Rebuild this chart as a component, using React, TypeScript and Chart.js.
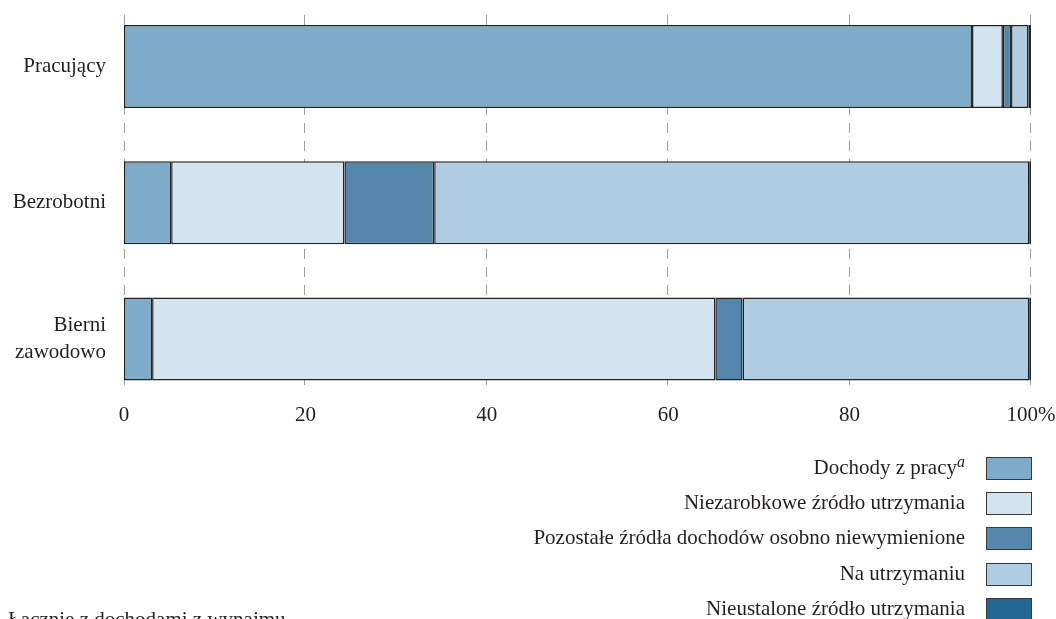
import React, { useEffect, useRef } from 'react';
import { Chart, registerables } from 'chart.js';

Chart.register(...registerables);

const categories: string[][] = [['Pracujący'], ['Bezrobotni'], ['Bierni', 'zawodowo']];
const seriesNames = [
  'Dochody z pracy',
  'Niezarobkowe źródło utrzymania',
  'Pozostałe źródła dochodów osobno niewymienione',
  'Na utrzymaniu',
  'Nieustalone źródło utrzymania',
];
const dochodyZPracy = [93.5, 5.2, 3.1];
const niezarobkowe = [3.4, 19.1, 62.1];
const pozostale = [0.9, 9.9, 3.0];
const naUtrzymaniu = [1.9, 65.6, 31.6];
const nieustalone = [0.3, 0.2, 0.2];
const seriesColors = ['#7fabca', '#d4e3f0', '#5487ab', '#afcce2', '#246891'];
const xTicks = [0, 20, 40, 60, 80, 100];
const footnote = 'Łącznie z dochodami z wynajmu';

const FONT = "'Liberation Serif', 'Times New Roman', serif";
const TEXT = '#231f20';

const dashedGrid = {
  id: 'dashedGrid',
  beforeDatasetsDraw(chart: any) {
    const ctx = chart.ctx;
    const xs = chart.scales.x;
    const area = chart.chartArea;
    const first = chart.getDatasetMeta(0).data[0] as any;
    const last = chart.getDatasetMeta(0).data[categories.length - 1] as any;
    const y0 = first.y - first.height / 2 - 10;
    const y1 = last.y + last.height / 2 + 11;
    ctx.save();
    ctx.strokeStyle = '#a0a0a0';
    ctx.lineWidth = 1;
    ctx.setLineDash([10, 8]);
    xTicks.forEach((t) => {
      const px = Math.round(xs.getPixelForValue(t));
      const x = px <= area.left + 1 ? px + 0.5 : px - 0.5;
      ctx.beginPath();
      ctx.moveTo(x, y0);
      ctx.lineTo(x, y1);
      ctx.stroke();
    });
    ctx.restore();
  },
};

export default function App() {
  const ref = useRef<HTMLCanvasElement | null>(null);
  useEffect(() => {
    if (!ref.current) return;
    const values = [dochodyZPracy, niezarobkowe, pozostale, naUtrzymaniu, nieustalone];
    const chart = new Chart(ref.current, {
      type: 'bar',
      data: {
        labels: categories as any,
        datasets: values.map((v, i) => ({
          label: seriesNames[i],
          data: v,
          backgroundColor: seriesColors[i],
          borderColor: '#222222',
          borderWidth: 1.5,
          borderSkipped: false,
          barPercentage: 0.61,
          categoryPercentage: 1,
          clip: false as any,
        })),
      },
      options: {
        indexAxis: 'y',
        animation: false,
        responsive: false,
        plugins: { legend: { display: false }, tooltip: { enabled: false } },
        layout: { padding: { top: 66.5, left: 0, bottom: 0, right: 25 } },
        scales: {
          x: {
            stacked: true,
            min: 0,
            max: 100,
            afterBuildTicks: (s: any) => {
              s.ticks = xTicks.map((v) => ({ value: v }));
            },
            afterFit: (s: any) => {
              s.height = 619 - 339;
              s.paddingLeft = 0;
              s.paddingRight = 0;
            },
            grid: { display: false, drawTicks: false },
            border: { display: false },
            ticks: {
              padding: 64,
              color: TEXT,
              font: { family: FONT, size: 21 },
              maxRotation: 0,
              callback: (v: any) => (v === 100 ? '100%' : String(v)),
            },
          },
          y: {
            stacked: true,
            offset: false,
            afterFit: (s: any) => {
              s.width = 124;
              s.paddingTop = 0;
              s.paddingBottom = 0;
            },
            grid: { display: false, drawTicks: false, offset: false },
            border: { display: false },
            ticks: {
              padding: 18,
              color: TEXT,
              font: { family: FONT, size: 21, lineHeight: 1.25 },
            },
          },
        },
      },
      plugins: [dashedGrid],
    });
    return () => chart.destroy();
  }, []);

  return (
    <div
      style={{
        position: 'fixed',
        left: 0,
        top: 0,
        width: 1056,
        height: 619,
        background: '#fff',
        overflow: 'hidden',
        fontFamily: FONT,
        color: TEXT,
      }}
    >
      <div style={{ position: 'absolute', left: 0, top: 0, width: 1056, height: 619 }}>
        <canvas ref={ref} width={1056} height={619} style={{ width: 1056, height: 619 }} />
      </div>
      {seriesNames.map((name, i) => {
        const top = 457 + i * 35.2;
        return (
          <div key={name}>
            <div
              style={{
                position: 'absolute',
                right: 1056 - 965,
                top: top - 3,
                height: 26,
                lineHeight: '26px',
                fontSize: 21,
                whiteSpace: 'nowrap',
                textAlign: 'right',
              }}
            >
              {name}
              {i === 0 ? (
                <sup style={{ fontStyle: 'italic', fontSize: 16, lineHeight: 0, verticalAlign: 7 }}>a</sup>
              ) : null}
            </div>
            <div
              style={{
                position: 'absolute',
                left: 986,
                top,
                width: 46,
                height: 23,
                boxSizing: 'border-box',
                background: seriesColors[i],
                border: '1.5px solid #3a3a3a',
              }}
            />
          </div>
        );
      })}
      <div
        style={{
          position: 'absolute',
          left: 8,
          top: 606,
          fontSize: 21,
          lineHeight: '26px',
          whiteSpace: 'nowrap',
        }}
      >
        {footnote}
      </div>
    </div>
  );
}
